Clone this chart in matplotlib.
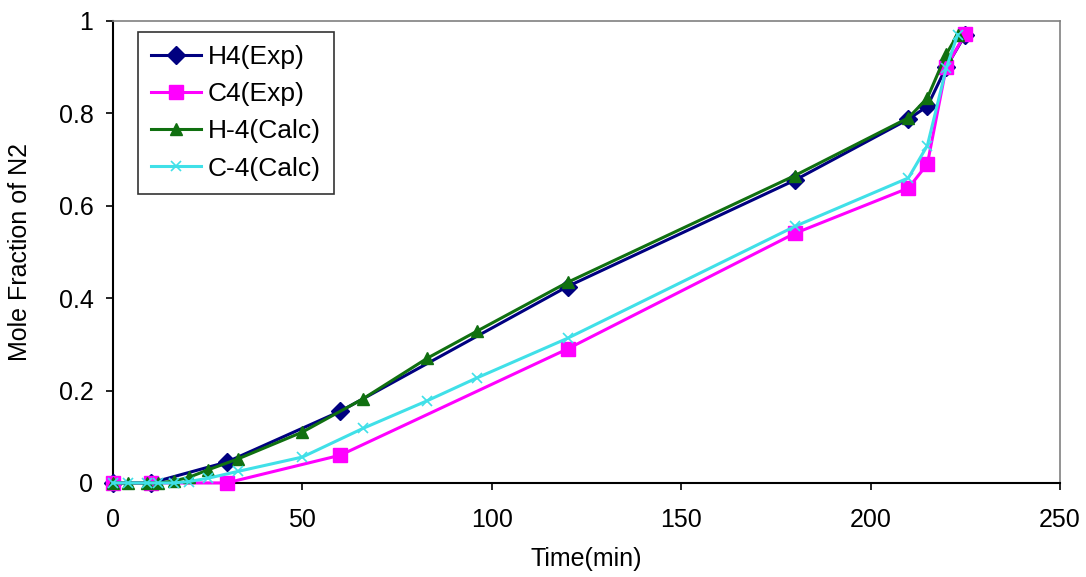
import matplotlib
matplotlib.use("Agg")
import matplotlib.pyplot as plt
from matplotlib.ticker import FuncFormatter

plt.rcParams['font.family'] = ['Liberation Sans', 'DejaVu Sans']

# Experimental data
t_exp = [0, 10, 30, 60, 120, 180, 210, 215, 220, 225]
h4_exp = [0.0, 0.0, 0.045, 0.155, 0.425, 0.655, 0.787, 0.815, 0.90, 0.97]
c4_exp = [0.0, 0.0, 0.0, 0.06, 0.29, 0.54, 0.638, 0.69, 0.90, 0.972]

# Calculated data
t_calc = [0, 4, 9, 12, 16, 20, 25, 33, 50, 66, 83, 96, 120, 180, 210, 215, 220, 223]
h4_calc = [0.0, 0.0, 0.0, 0.0, 0.004, 0.012, 0.028, 0.052, 0.11, 0.182, 0.27, 0.328, 0.434, 0.665, 0.79, 0.833, 0.928, 0.97]
c4_calc = [0.0, 0.0, 0.0, 0.0, 0.0, 0.003, 0.01, 0.025, 0.056, 0.118, 0.178, 0.227, 0.313, 0.555, 0.66, 0.73, 0.898, 0.97]

labels = ['H4(Exp)', 'C4(Exp)', 'H-4(Calc)', 'C-4(Calc)']
x_ticks = [0, 50, 100, 150, 200, 250]
y_ticks = [0, 0.2, 0.4, 0.6, 0.8, 1.0]

fig = plt.figure(figsize=(10.86, 5.77), dpi=100)
ax = fig.add_axes([0.104, 0.163, 0.872, 0.801])

lw = 2.2
ax.plot(t_exp, h4_exp, color='#000080', lw=lw, marker='D', ms=9, label=labels[0], clip_on=False, zorder=3)
ax.plot(t_exp, c4_exp, color='#FF00FF', lw=lw, marker='s', ms=10, label=labels[1], clip_on=False, zorder=4)
ax.plot(t_calc, h4_calc, color='#107010', lw=lw, marker='^', ms=8, label=labels[2], clip_on=False, zorder=5)
ax.plot(t_calc, c4_calc, color='#40E0E8', lw=lw, marker='x', ms=7, mew=1.2, label=labels[3], clip_on=False, zorder=6)

ax.set_xlim(0, 250)
ax.set_ylim(0, 1)
ax.set_xticks(x_ticks)
ax.set_yticks(y_ticks)
ax.yaxis.set_major_formatter(FuncFormatter(lambda v, p: '%g' % v))
ax.tick_params(axis='both', direction='out', length=5, width=1.2, labelsize=18, colors='black')
ax.tick_params(axis='x', pad=13)
ax.tick_params(axis='y', pad=9)

for s in ['top', 'right']:
    ax.spines[s].set_color('#808080')
    ax.spines[s].set_linewidth(1.2)
for s in ['left', 'bottom']:
    ax.spines[s].set_color('black')
    ax.spines[s].set_linewidth(1.5)

ax.set_xlabel('Time(min)', fontsize=18)
ax.set_ylabel('Mole Fraction of N2', fontsize=18)
ax.xaxis.set_label_coords(0.5, -0.138)
ax.yaxis.set_label_coords(-0.085, 0.5)

leg = ax.legend(loc='upper left', bbox_to_anchor=(0.026, 0.976), fontsize=19, frameon=True,
                fancybox=False, edgecolor='black', handlelength=1.9, handletextpad=0.27,
                labelspacing=0.5, borderpad=0.5, borderaxespad=0.0)
leg.get_frame().set_linewidth(1.2)

fig.savefig('out.png', dpi=100)
